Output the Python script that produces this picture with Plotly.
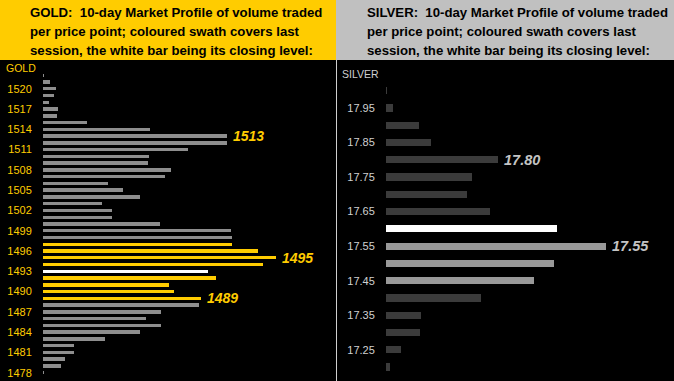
import plotly.graph_objects as go

W, H = 674, 381

# ---------------- data ----------------
gold_levels = list(range(1522, 1477, -1))
gold_volume = [1, 7, 13, 11, 6, 15, 14, 44, 107, 184, 184, 145, 106, 105, 128,
               122, 65, 80, 97, 59, 69, 69, 117, 188, 189, 189, 215, 233, 220,
               165, 173, 126, 131, 158, 156, 118, 103, 118, 97, 62, 31, 31, 22,
               18, 1]
gold_session = [1497, 1496, 1495, 1494, 1492, 1491, 1490, 1489]
gold_close = 1493
gold_ticks = [1520, 1517, 1514, 1511, 1508, 1505, 1502, 1499, 1496, 1493,
              1490, 1487, 1484, 1481, 1478]
gold_callouts = [1513, 1495, 1489]

silver_levels = [18.00, 17.95, 17.90, 17.85, 17.80, 17.75, 17.70, 17.65, 17.60,
                 17.55, 17.50, 17.45, 17.40, 17.35, 17.30, 17.25, 17.20]
silver_volume = [1.3, 7, 33, 45, 112, 86, 81, 104, 171, 220, 168, 148, 95, 35,
                 34, 15, 4]
silver_session = [17.55, 17.50, 17.45]
silver_close = 17.60
silver_ticks = [17.95, 17.85, 17.75, 17.65, 17.55, 17.45, 17.35, 17.25]
silver_callouts = [17.80, 17.55]

gold_header = ["GOLD:\u00a0 10-day Market Profile of volume traded",
               "per price point; coloured swath covers last",
               "session, the white bar being its closing level:"]
silver_header = ["SILVER:\u00a0 10-day Market Profile of volume traded",
                 "per price point; coloured swath covers last",
                 "session, the white bar being its closing level:"]

# ---------------- styles ----------------
YEL = "#FFCC00"
GOLD_GRAY = "#8e8e8e"
SIL_DARK = "#3b3b3b"
SIL_SWATH = "#999999"
SIL_TXT = "#d0d0d0"
FONT = "Liberation Sans, Arial, sans-serif"
HDR = 60

def colour(levels, session, close, base, swath):
    out = []
    for lv in levels:
        if abs(lv - close) < 1e-9:
            out.append("#ffffff")
        elif any(abs(lv - s) < 1e-9 for s in session):
            out.append(swath)
        else:
            out.append(base)
    return out

fig = go.Figure()
fig.add_trace(go.Bar(
    y=gold_levels, x=gold_volume, orientation="h", width=0.5,
    marker=dict(color=colour(gold_levels, gold_session, gold_close, GOLD_GRAY, YEL),
                line=dict(width=0)),
    xaxis="x", yaxis="y", hoverinfo="skip"))
fig.add_trace(go.Bar(
    y=silver_levels, x=silver_volume, orientation="h", width=0.021,
    marker=dict(color=colour(silver_levels, silver_session, silver_close, SIL_DARK, SIL_SWATH),
                line=dict(width=0)),
    xaxis="x2", yaxis="y2", hoverinfo="skip"))

top = 1 - HDR / H
axis_common = dict(showgrid=False, zeroline=False, showline=False)
fig.update_layout(
    width=W, height=H, margin=dict(l=0, r=0, t=0, b=0),
    paper_bgcolor="#000000", plot_bgcolor="#000000",
    showlegend=False, hovermode=False, bargap=0,
    xaxis=dict(domain=[43 / W, 335 / W], range=[0, 292], visible=False, **axis_common),
    xaxis2=dict(domain=[386 / W, 1], range=[0, 288], visible=False, **axis_common),
    yaxis=dict(domain=[0, top], range=[1476.77, 1524.26], anchor="x",
               tickvals=gold_ticks, ticks="outside", ticklen=8,
               tickcolor="rgba(0,0,0,0)",
               tickfont=dict(family=FONT, size=11, color=YEL), **axis_common),
    yaxis2=dict(domain=[0, top], range=[17.1595, 18.0889], anchor="x2",
                tickvals=silver_ticks, tickformat=".2f", ticks="outside", ticklen=8,
                tickcolor="rgba(0,0,0,0)",
                tickfont=dict(family=FONT, size=11, color=SIL_TXT), **axis_common),
)

# header boxes and separator
fig.add_shape(type="rect", xref="paper", yref="paper", x0=0, x1=336 / W, y0=top, y1=1,
              fillcolor=YEL, line=dict(width=0), layer="below")
fig.add_shape(type="rect", xref="paper", yref="paper", x0=336 / W, x1=1, y0=top, y1=1,
              fillcolor="#C0C0C0", line=dict(width=0), layer="below")
fig.add_shape(type="line", xref="paper", yref="paper", x0=336.5 / W, x1=336.5 / W,
              y0=0, y1=top, line=dict(color="#cfcfcf", width=1))

line_y = [12.5, 31, 50]
for i, t in enumerate(gold_header):
    fig.add_annotation(text=t, xref="paper", yref="paper", x=28 / W, y=1 - line_y[i] / H,
                       xanchor="left", yanchor="middle", showarrow=False,
                       font=dict(family=FONT, size=13.2, color="#000000", weight="bold"))
for i, t in enumerate(silver_header):
    fig.add_annotation(text=t, xref="paper", yref="paper", x=365 / W, y=1 - line_y[i] / H,
                       xanchor="left", yanchor="middle", showarrow=False,
                       font=dict(family=FONT, size=13.2, color="#000000", weight="bold"))

fig.add_annotation(text="GOLD", xref="paper", yref="paper", x=4 / W, y=1 - 68.5 / H,
                   xanchor="left", yanchor="middle", showarrow=False,
                   font=dict(family=FONT, size=10.5, color=YEL))
fig.add_annotation(text="SILVER", xref="paper", yref="paper", x=340 / W, y=1 - 74 / H,
                   xanchor="left", yanchor="middle", showarrow=False,
                   font=dict(family=FONT, size=10.5, color=SIL_TXT))

for lv in gold_callouts:
    v = gold_volume[gold_levels.index(lv)]
    fig.add_annotation(text=str(lv), x=v, y=lv, xref="x", yref="y", xanchor="left",
                       yanchor="middle", xshift=4, showarrow=False,
                       font=dict(family=FONT, size=14, color=YEL, weight="bold", style="italic"))
for lv in silver_callouts:
    v = silver_volume[silver_levels.index(lv)]
    fig.add_annotation(text=f"{lv:.2f}", x=v, y=lv, xref="x2", yref="y2", xanchor="left",
                       yanchor="middle", xshift=4, showarrow=False,
                       font=dict(family=FONT, size=14.5, color="#c4c4c4", weight="bold", style="italic"))

fig.write_html("out.html", config={"displayModeBar": False, "staticPlot": True},
               post_script="document.body.style.margin='0';document.body.style.padding='0';")
